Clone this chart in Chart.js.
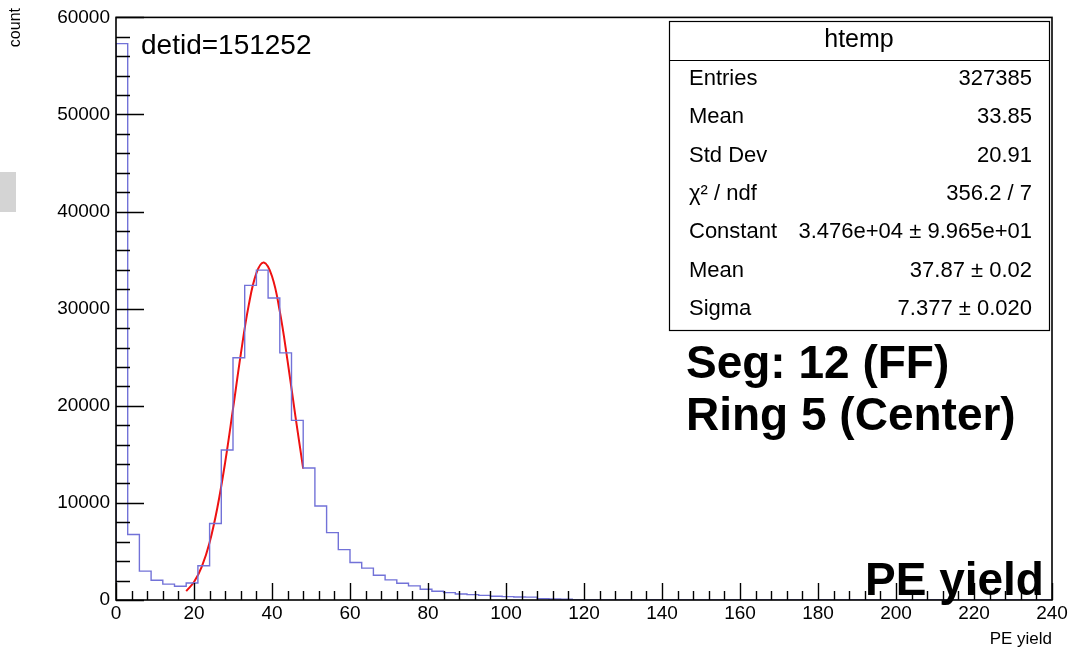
<!DOCTYPE html>
<html>
<head>
<meta charset="utf-8">
<script src="https://cdn.jsdelivr.net/npm/chart.js@4.4.1/dist/chart.umd.min.js"></script>
<style>
  html, body { margin: 0; padding: 0; background: #fff; }
  #wrap { width: 1074px; height: 653px; }
</style>
</head>
<body>
<div id="wrap"><canvas id="c" width="1074" height="653"></canvas></div>
<script>
// histogram: 80 bins of width 3 over 0..240 (counts)
const binWidth = 3;
const binCounts = [
  57300, 6750, 2970, 2030, 1630, 1420, 1750, 3530, 7880, 15450,
  24950, 32400, 33970, 31100, 25450, 18500, 13600, 9680, 6940, 5190,
  3860, 3280, 2550, 2070, 1720, 1450, 1100, 900, 760, 620,
  550, 480, 380, 345, 310, 300, 140, 100, 70, 0,
  0, 0, 0, 0, 0, 0, 0, 0, 0, 0,
  0, 0, 0, 0, 0, 0, 0, 0, 0, 0,
  0, 0, 0, 0, 0, 0, 0, 0, 0, 0,
  0, 0, 0, 0, 0, 0, 0, 0, 0, 0
];

// red gaussian fit curve
const fitX = [18, 20, 22, 24, 26, 28, 30, 32, 34, 36, 37.9, 40, 42, 44, 46, 48];
const fitY = [920, 1850, 3440, 5930, 9530, 14200, 19680, 25330, 30290, 33660, 34760, 33340, 29720, 24610, 18940, 13540];

// stat box
const statTitle = "htemp";
const statNames = ["Entries", "Mean", "Std Dev", "\u03C7\u00B2 / ndf", "Constant", "Mean", "Sigma"];
const statValues = ["327385", "33.85", "20.91", "356.2 / 7", "3.476e+04 \u00B1 9.965e+01", "37.87 \u00B1 0.02", "7.377 \u00B1 0.020"];

const FONT = "'Liberation Sans', Arial, Helvetica, sans-serif";

const histPts = [{ x: 0, y: 0 }];
binCounts.forEach((v, i) => histPts.push({ x: i * binWidth, y: v }));
histPts.push({ x: binCounts.length * binWidth, y: 0 });

const fitPts = fitX.map((x, i) => ({ x: x, y: fitY[i] }));

const rootPlugin = {
  id: "rootStyle",
  beforeDraw(chart) {
    const ctx = chart.ctx;
    ctx.save();
    ctx.fillStyle = "#fff";
    ctx.fillRect(0, 0, chart.width, chart.height);
    // grey patch at the left edge
    ctx.fillStyle = "#d4d4d4";
    ctx.fillRect(0, 172, 16, 40);
    ctx.restore();
  },
  afterDraw(chart) {
    const ctx = chart.ctx;
    const a = chart.chartArea;
    const xs = chart.scales.x, ys = chart.scales.y;
    ctx.save();

    // frame
    ctx.strokeStyle = "#000";
    ctx.lineWidth = 1.6;
    ctx.strokeRect(a.left, a.top, a.right - a.left, a.bottom - a.top);

    // inward ticks
    ctx.lineWidth = 1.4;
    ctx.beginPath();
    for (let v = 0; v <= 240; v += 4) {
      const px = Math.round(xs.getPixelForValue(v)) + 0.5;
      const len = v % 20 === 0 ? 17 : 9;
      ctx.moveTo(px, a.bottom);
      ctx.lineTo(px, a.bottom - len);
    }
    for (let v = 0; v <= 60000; v += 2000) {
      const py = Math.round(ys.getPixelForValue(v)) + 0.5;
      const len = v % 10000 === 0 ? 28 : 14;
      ctx.moveTo(a.left, py);
      ctx.lineTo(a.left + len, py);
    }
    ctx.stroke();

    // y axis title, rotated, flush with the top
    ctx.fillStyle = "#000";
    ctx.save();
    ctx.translate(16, 8);
    ctx.rotate(-Math.PI / 2);
    ctx.font = "16px " + FONT;
    ctx.textAlign = "right";
    ctx.textBaseline = "middle";
    ctx.fillText("count", 0, 0);
    ctx.restore();

    // stat box
    const bx = 669, by = 21, bw = 380, bh = 309;
    ctx.fillStyle = "#fff";
    ctx.fillRect(bx, by, bw, bh);
    ctx.lineWidth = 1.2;
    ctx.strokeRect(bx + 0.5, by + 0.5, bw, bh);
    ctx.beginPath();
    ctx.moveTo(bx, 60.5);
    ctx.lineTo(bx + bw, 60.5);
    ctx.stroke();

    ctx.fillStyle = "#000";
    ctx.textBaseline = "middle";
    ctx.font = "25px " + FONT;
    ctx.textAlign = "center";
    ctx.fillText(statTitle, bx + bw / 2, 40);
    ctx.font = "22px " + FONT;
    statNames.forEach((n, i) => {
      const yy = 79 + i * 38.3;
      ctx.textAlign = "left";
      ctx.fillText(n, 689, yy);
      ctx.textAlign = "right";
      ctx.fillText(statValues[i], 1032, yy);
    });

    // annotations
    ctx.textBaseline = "alphabetic";
    ctx.textAlign = "left";
    ctx.font = "28px " + FONT;
    ctx.fillText("detid=151252", 141, 54);
    ctx.font = "bold 46px " + FONT;
    ctx.fillText("Seg: 12 (FF)", 686, 378);
    ctx.fillText("Ring 5 (Center)", 686, 430);
    ctx.fillText("PE yield", 865, 595);

    ctx.restore();
  }
};

new Chart(document.getElementById("c"), {
  type: "line",
  data: {
    datasets: [
      {
        label: "htemp",
        data: histPts,
        stepped: "before",
        borderColor: "#7272d8",
        borderWidth: 1.4,
        pointRadius: 0,
        fill: false
      },
      {
        label: "fit",
        data: fitPts,
        borderColor: "#ee1111",
        borderWidth: 2,
        tension: 0.4,
        pointRadius: 0,
        fill: false
      }
    ]
  },
  options: {
    responsive: false,
    animation: false,
    events: [],
    layout: { padding: { top: 16, right: 22, left: 0, bottom: 0 } },
    plugins: { legend: { display: false }, tooltip: { enabled: false } },
    scales: {
      x: {
        type: "linear",
        min: 0,
        max: 240,
        ticks: { stepSize: 20, color: "#000", font: { family: FONT, size: 19 }, padding: 2, maxRotation: 0, autoSkip: false, callback: v => String(v) },
        grid: { display: false, drawTicks: false },
        border: { display: false },
        title: { display: true, text: "PE yield", align: "end", color: "#000", font: { family: FONT, size: 17 }, padding: { top: 0, bottom: 3 } },
        afterFit(s) { s.height = 53; }
      },
      y: {
        type: "linear",
        min: 0,
        max: 60000,
        ticks: { stepSize: 10000, color: "#000", font: { family: FONT, size: 19 }, padding: 6, callback: v => String(v) },
        grid: { display: false, drawTicks: false },
        border: { display: false },
        title: { display: false },
        afterFit(s) { s.width = 116; }
      }
    }
  },
  plugins: [rootPlugin]
});
</script>
</body>
</html>
